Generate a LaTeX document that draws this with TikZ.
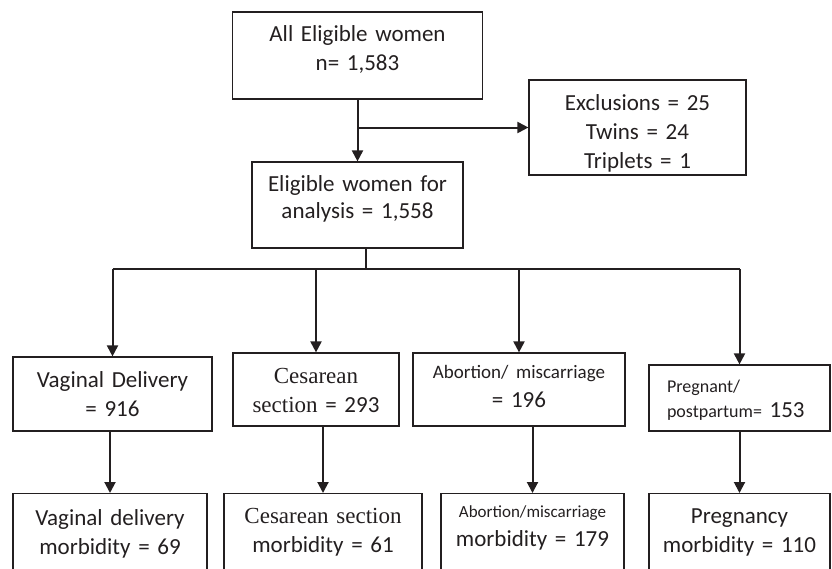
\documentclass[tikz,border=0pt]{standalone}
\usepackage{fontspec}
\setmainfont{Carlito}
\newfontfamily\timesfont{Liberation Serif}
\usetikzlibrary{positioning}
\usetikzlibrary{arrows.meta}
\definecolor{ink}{RGB}{35,31,32}
\tikzset{
        flownode/.style={align=center,inner sep=0pt},
        % Boxes of the flow chart
        node_box/.style={flownode, rectangle, draw=ink, text=ink, line width=1.2pt, font=\fontsize{23}{29}\selectfont},
        % Boxes of the last row (cut by the page)
        node_end/.style={node_box, anchor=north, minimum height=81pt},
        % Plain connector
        line_plain/.style={draw=ink, line width=2pt},
        % Connector with a head
        line_arrow/.style={line_plain, -{Triangle[width=11pt,length=11pt]}}
}
\begin{document}
\begin{tikzpicture}[x=1pt, y=-1pt]
            \useasboundingbox (0,0) rectangle (832,568);
            % top part
            \node[node_box, text width=250pt, minimum height=87pt, text depth=43pt] (all) at (357.5,55.5) {All Eligible women\\n= 1,583};
            \node[node_box, text width=217pt, minimum height=95pt, text depth=49pt] (excl) at (637.5,127.5) {Exclusions = 25\\Twins = 24\\Triplets = 1};
            \node[node_box, text width=211pt, minimum height=86pt, text depth=42pt, font=\fontsize{23}{27}\selectfont] (elig) at (357.5,205) {Eligible women for\\analysis = 1,558};
            % middle row
            \node[node_box, text width=199pt, minimum height=74pt] (vag) at (112.5,394) {Vaginal Delivery\\= 916};
            \node[node_box, text width=166pt, minimum height=73pt, text depth=27pt] (ces) at (316,389.5) {{\timesfont Cesarean}\\{\timesfont section} = 293};
            \node[node_box, text width=212pt, minimum height=73pt, text depth=36pt] (abo) at (519,389.5) {{\fontsize{19}{29}\selectfont Abortion/ miscarriage}\\= 196};
            \node[node_box, align=left, text width=145pt, inner xsep=18pt, minimum height=66pt, text depth=23pt, font=\fontsize{23}{25}\selectfont] (preg) at (739.5,398) {{\fontsize{18}{25}\selectfont Pregnant/}\\{\fontsize{18}{25}\selectfont postpartum=} 153};
            % last row
            \node[node_end, text width=194pt] (vagm) at (110,493) {Vaginal delivery\\morbidity = 69};
            \node[node_end, text width=198pt, text depth=36pt] (cesm) at (323,493) {{\timesfont Cesarean section}\\morbidity = 61};
            \node[node_end, text width=183pt, text depth=45pt] (abom) at (532.5,493) {{\fontsize{17}{29}\selectfont Abortion/miscarriage}\\morbidity = 179};
            \node[node_end, text width=181pt, text depth=36pt] (pregm) at (739.5,493) {Pregnancy\\morbidity = 110};

            \coordinate (split) at (366,269);

            \draw[line_arrow] (all.south) -- (elig.north);
            \draw[line_arrow] (all.south |- excl.west) -- (excl.west);
            \draw[line_plain] (elig.south -| split) -- (split);
            \draw[line_plain] (vag.north |- split) -- (preg.north |- split);
            \foreach \n in {vag,ces,abo,preg}
                \draw[line_arrow] (\n.north |- split) -- (\n.north);
            \foreach \a/\b in {vag/vagm,ces/cesm,abo/abom,preg/pregm}
                \draw[line_arrow] (\a.south -| \b.north) -- (\b.north);
        \end{tikzpicture}
\end{document}
